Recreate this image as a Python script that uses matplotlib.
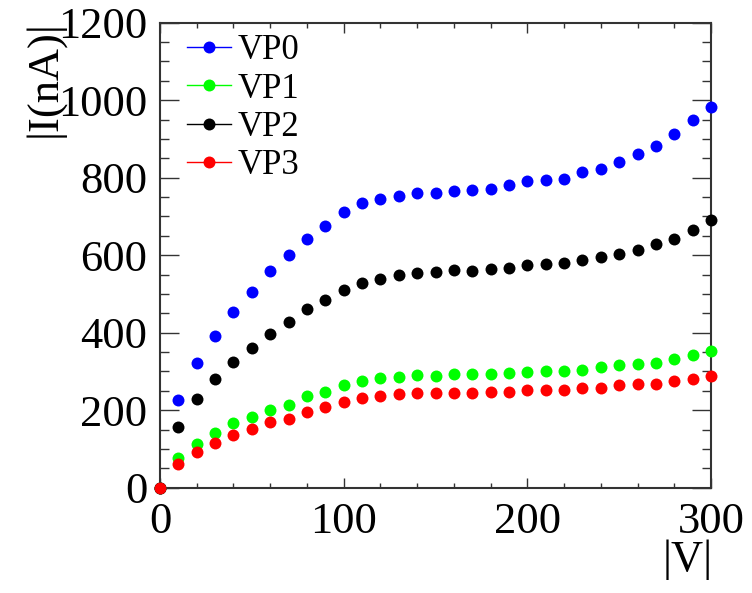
import numpy as np
import matplotlib.pyplot as plt
from matplotlib.ticker import MultipleLocator

plt.rcParams['font.family'] = ['Liberation Serif', 'DejaVu Serif']

# napiecie |V|
voltage = np.arange(0, 301, 10)

# prad |I| [nA]
vp0 = [0, 226, 321, 392, 454, 504, 558, 600, 642, 676, 711, 735, 744, 754, 760, 761,
       766, 769, 772, 780, 791, 794, 797, 814, 822, 840, 860, 882, 912, 948, 982]
vp1 = [0, 76, 113, 140, 166, 182, 201, 214, 237, 247, 266, 276, 283, 286, 290, 288,
       293, 293, 293, 296, 299, 301, 301, 304, 311, 316, 318, 321, 331, 342, 352]
vp2 = [0, 157, 228, 280, 325, 361, 397, 427, 461, 484, 509, 529, 539, 550, 554, 556,
       561, 559, 564, 567, 575, 578, 581, 588, 595, 603, 613, 629, 643, 665, 690]
vp3 = [0, 61, 92, 116, 137, 151, 170, 177, 196, 209, 220, 232, 236, 242, 245, 244,
       245, 244, 248, 246, 253, 253, 252, 256, 258, 264, 267, 268, 275, 281, 288]

series = [("VP0", vp0, "#0000ff"),
          ("VP1", vp1, "#00ff00"),
          ("VP2", vp2, "#000000"),
          ("VP3", vp3, "#ff0000")]

fig = plt.figure(figsize=(7.52, 5.93), dpi=100)
ax = fig.add_axes([160/752, 1 - 487.7/593, 551/752, 465/593])

for name, vals, col in series:
    ax.plot(voltage, vals, 'o', color=col, markersize=8.6, markeredgewidth=0,
            label=name, clip_on=False, zorder=3)

ax.set_xlim(0, 300)
ax.set_ylim(0, 1200)
ax.xaxis.set_major_locator(MultipleLocator(100))
ax.xaxis.set_minor_locator(MultipleLocator(20))
ax.yaxis.set_major_locator(MultipleLocator(200))
ax.yaxis.set_minor_locator(MultipleLocator(50))

ax.tick_params(axis='both', which='both', direction='in', top=True, right=True,
               labelsize=32, width=1, color='#333333')
ax.tick_params(axis='y', which='major', length=14, pad=9)
ax.tick_params(axis='y', which='minor', length=6.5)
ax.tick_params(axis='x', which='major', length=7, pad=10)
ax.tick_params(axis='x', which='minor', length=3.3)
for sp in ax.spines.values():
    sp.set_linewidth(1.5)
    sp.set_color('#333333')

fig.text(44/752, 1 - 20/593, "|I(nA)|", rotation=90, ha='center', va='top', fontsize=32)
fig.text(713/752, 1 - 540/593, "|V|", ha='right', va='top', fontsize=32)

# legenda z linia i punktem
handles = [plt.Line2D([], [], color=col, marker='o', markersize=8.6, markeredgewidth=0,
                      linewidth=1) for _, _, col in series]
ax.legend(handles, [s[0] for s in series], loc='upper left', frameon=False,
          fontsize=25, handlelength=1.26, handletextpad=0.2, labelspacing=0.15,
          borderpad=0, borderaxespad=0, bbox_to_anchor=(0.049, 0.975))

fig.savefig("out.png", dpi=100)
